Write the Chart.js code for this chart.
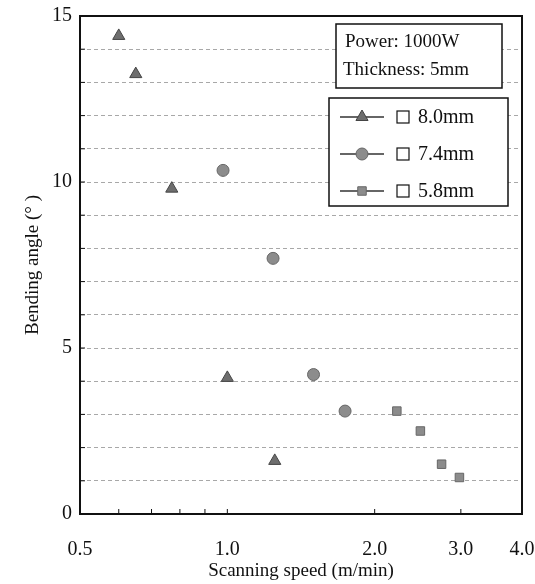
<!DOCTYPE html>
<html>
<head>
<meta charset="utf-8">
<script src="https://cdn.jsdelivr.net/npm/chart.js@4.4.1/dist/chart.umd.min.js"></script>
<style>
  html, body { margin: 0; padding: 0; background: #fff; }
  #wrap { position: relative; width: 535px; height: 584px; }
</style>
</head>
<body>
<div id="wrap"><canvas id="chart" width="535" height="584"></canvas></div>
<script>
// data
const speed80 = [0.6, 0.65, 0.77, 1.0, 1.25];
const angle80 = [14.4, 13.25, 9.8, 4.1, 1.6];
const speed74 = [0.98, 1.24, 1.5, 1.74];
const angle74 = [10.35, 7.7, 4.2, 3.1];
const speed58 = [2.22, 2.48, 2.74, 2.98];
const angle58 = [3.1, 2.5, 1.5, 1.1];
const seriesNames = ["8.0mm", "7.4mm", "5.8mm"];
const xTicks = [0.5, 0.6, 0.7, 0.8, 0.9, 1.0, 2.0, 3.0, 4.0];
const xLabels = [0.5, 1.0, 2.0, 3.0, 4.0];
const noteLines = ["Power: 1000W", "Thickness: 5mm"];

const serif = "'Liberation Serif', 'Times New Roman', serif";

function pts(xs, ys)
{
  return xs.map((x, i) => ({x: x, y: ys[i]}));
}

// frame, inward ticks, note box and legend
const decor = {
  id: "decor",
  afterDraw(chart)
  {
    const ctx = chart.ctx;
    const a = chart.chartArea;
    const xs = chart.scales.x, ys = chart.scales.y;
    ctx.save();

    ctx.strokeStyle = "#111";
    ctx.lineWidth = 1;
    xTicks.forEach(v =>
    {
      const px = xs.getPixelForValue(v);
      ctx.beginPath();
      ctx.moveTo(px, a.bottom);
      ctx.lineTo(px, a.bottom - 5);
      ctx.stroke();
    });
    for (let v = 1; v < 15; v++)
    {
      const py = ys.getPixelForValue(v);
      ctx.beginPath();
      ctx.moveTo(a.left, py);
      ctx.lineTo(a.left + 5, py);
      ctx.stroke();
    }

    ctx.lineWidth = 2;
    ctx.strokeRect(a.left, a.top, a.right - a.left, a.bottom - a.top);

    // note box
    ctx.fillStyle = "#fff";
    ctx.fillRect(336, 24, 166, 64);
    ctx.lineWidth = 1.5;
    ctx.strokeRect(336, 24, 166, 64);
    ctx.fillStyle = "#111";
    ctx.font = "19px " + serif;
    ctx.textBaseline = "middle";
    ctx.fillText(noteLines[0], 345, 42);
    ctx.fillText(noteLines[1], 343, 70);

    // legend box
    ctx.fillStyle = "#fff";
    ctx.fillRect(329, 98, 179, 108);
    ctx.strokeRect(329, 98, 179, 108);
    chart.data.datasets.forEach((ds, i) =>
    {
      const cy = 117 + i * 37;
      ctx.strokeStyle = "#666";
      ctx.lineWidth = 2;
      ctx.beginPath();
      ctx.moveTo(340, cy);
      ctx.lineTo(384, cy);
      ctx.stroke();
      ctx.fillStyle = ds.backgroundColor;
      ctx.strokeStyle = ds.borderColor;
      ctx.lineWidth = 1;
      Chart.helpers.drawPoint(ctx, {pointStyle: ds.pointStyle, radius: ds.pointRadius, rotation: 0, borderWidth: 1}, 362, cy);
      ctx.strokeStyle = "#111";
      ctx.lineWidth = 1.2;
      ctx.strokeRect(397, cy - 6, 12, 12);
      ctx.fillStyle = "#111";
      ctx.font = "20px " + serif;
      ctx.fillText(ds.label, 418, cy + 1);
    });

    ctx.restore();
  }
};

new Chart(document.getElementById("chart"),
{
  type: "scatter",
  data:
  {
    datasets: [
    {
      label: seriesNames[0],
      data: pts(speed80, angle80),
      pointStyle: "triangle",
      pointRadius: 7,
      backgroundColor: "#6e6e6e",
      borderColor: "#444"
    },
    {
      label: seriesNames[1],
      data: pts(speed74, angle74),
      pointStyle: "circle",
      pointRadius: 6,
      backgroundColor: "#8c8c8c",
      borderColor: "#666"
    },
    {
      label: seriesNames[2],
      data: pts(speed58, angle58),
      pointStyle: "rect",
      pointRadius: 6,
      backgroundColor: "#8c8c8c",
      borderColor: "#666"
    }]
  },
  options:
  {
    responsive: false,
    animation: false,
    layout: {padding: {left: 0, right: 13, top: 16, bottom: 0}},
    plugins: {legend: {display: false}, tooltip: {enabled: false}},
    scales:
    {
      x:
      {
        type: "logarithmic",
        min: 0.5,
        max: 4,
        afterBuildTicks: s => { s.ticks = xTicks.map(v => ({value: v})); },
        afterFit: s => { s.height = 70; s.paddingLeft = 0; s.paddingRight = 0; },
        grid: {display: false},
        border: {display: false},
        ticks:
        {
          autoSkip: false,
          maxRotation: 0,
          padding: 16,
          color: "#111",
          font: {family: serif, size: 20},
          callback: v => xLabels.includes(v) ? v.toFixed(1) : ""
        },
        title:
        {
          display: true,
          text: "Scanning speed (m/min)",
          color: "#111",
          font: {family: serif, size: 19},
          padding: {top: 0, bottom: 2}
        }
      },
      y:
      {
        min: 0,
        max: 15,
        afterFit: s => { s.width = 80; s.paddingTop = 0; s.paddingBottom = 0; },
        grid:
        {
          drawTicks: false,
          color: c => (c.tick.value === 0 || c.tick.value === 15) ? "rgba(0,0,0,0)" : "#a8a8a8",
          lineWidth: 1
        },
        border: {display: false, dash: [4, 3]},
        ticks:
        {
          stepSize: 1,
          autoSkip: false,
          padding: 8,
          color: "#111",
          font: {family: serif, size: 20},
          callback: v => v % 5 === 0 ? v : ""
        },
        title:
        {
          display: true,
          text: "Bending angle (° )",
          color: "#111",
          font: {family: serif, size: 19},
          padding: {top: 22, bottom: 0}
        }
      }
    }
  },
  plugins: [decor]
});
</script>
</body>
</html>
